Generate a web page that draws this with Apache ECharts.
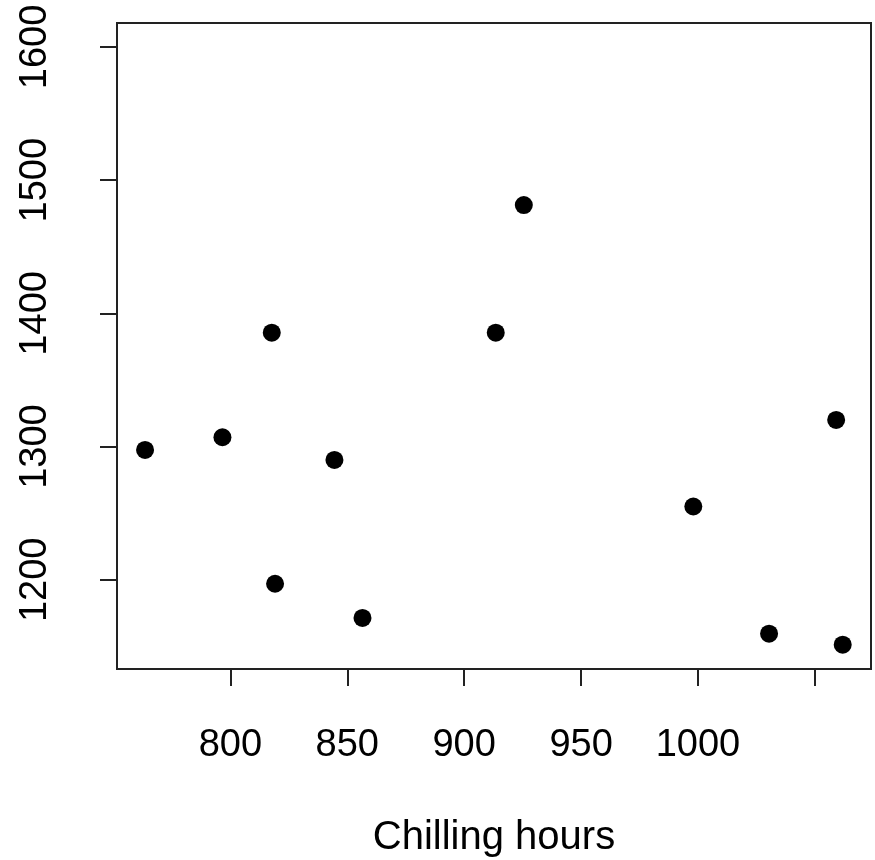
<!DOCTYPE html>
<html>
<head>
<meta charset="utf-8">
<script src="https://cdn.jsdelivr.net/npm/echarts@6/dist/echarts.min.js"></script>
<style>
html,body{margin:0;padding:0;background:#fff;}
#chart{width:875px;height:860px;}
</style>
</head>
<body>
<div id="chart"></div>
<script>
// Data
var chillingHours = [763.5, 796.6, 817.7, 819.1, 844.5, 856.5, 913.5, 925.5, 998, 1030.4, 1059.1, 1061.9];
var yValues       = [1297.5, 1307, 1385.5, 1197, 1290, 1171.3, 1385.5, 1481.3, 1255, 1159.5, 1320, 1151.3];
var xTicks = [800, 850, 900, 950, 1000, 1050];
var xTickLabels = [800, 850, 900, 950, 1000];
var yTicks = [1200, 1300, 1400, 1500, 1600];
var xTitle = 'Chilling hours';

var points = chillingHours.map(function (x, i) { return [x, yValues[i]]; });
var font = '"Liberation Sans", Arial, sans-serif';
var plain = function (v) { return String(v); };

var chart = echarts.init(document.getElementById('chart'));
chart.setOption({
  animation: false,
  backgroundColor: '#fff',
  grid: {
    left: 117, top: 23, right: 4, bottom: 191,
    outerBoundsMode: 'none', containLabel: false,
    show: true, borderColor: '#222', borderWidth: 2, backgroundColor: 'transparent'
  },
  xAxis: {
    type: 'value',
    min: 751.5, max: 1074,
    splitLine: { show: false },
    axisLine: { show: false },
    axisTick: { show: true, inside: false, length: 17, customValues: xTicks,
      lineStyle: { color: '#222', width: 2 } },
    axisLabel: { customValues: xTickLabels, margin: 58, color: '#000',
      fontSize: 38, fontFamily: font, formatter: plain },
    name: xTitle, nameLocation: 'middle', nameGap: 149,
    nameTextStyle: { color: '#000', fontSize: 40, fontFamily: font }
  },
  yAxis: {
    type: 'value',
    min: 1133, max: 1618,
    splitLine: { show: false },
    axisLine: { show: false },
    axisTick: { show: true, inside: false, length: 17, customValues: yTicks,
      lineStyle: { color: '#222', width: 2 } },
    axisLabel: { customValues: yTicks, rotate: 90, margin: 62, color: '#000',
      fontSize: 38, fontFamily: font, formatter: plain }
  },
  series: [{
    type: 'scatter',
    data: points,
    symbol: 'circle',
    symbolSize: 18,
    itemStyle: { color: '#000', opacity: 1 }
  }]
});
</script>
</body>
</html>
